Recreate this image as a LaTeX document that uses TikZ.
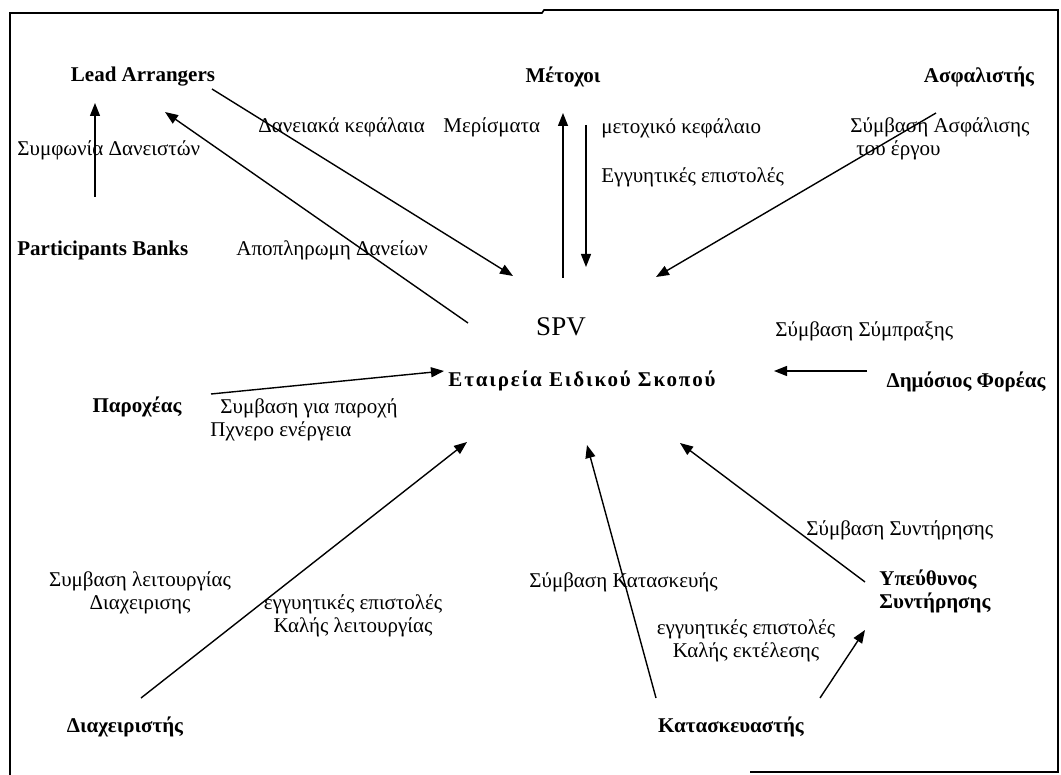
\documentclass[tikz,border=0pt]{standalone}
\usepackage{fontspec}
\setmainfont{Liberation Serif}
\usetikzlibrary{arrows.meta}

\begin{document}
\begin{tikzpicture}[
            x=0.5pt, y=-0.5pt,
            >={Triangle[length=6.5pt, width=5pt]},
            party/.style={inner sep=0pt, font=\fontsize{10.5}{11.5}\selectfont\bfseries},
            lbl/.style={inner sep=0pt, font=\fontsize{10.5}{11.5}\selectfont},
            flow/.style={->, line width=0.7pt},
        ]
            \useasboundingbox (0, 0) rectangle (1061, 775);
            \draw[line width=0.8pt] (10, 775) -- (10, 13) -- (542, 13) -- (544, 10) -- (1058, 10) -- (1058, 772) -- (750, 772);
            % parties
            \node[party] (lead) at (143, 77) {Lead Arrangers};
            \node[party] (metoxoi) at (563, 77) {Μέτοχοι};
            \node[party] (asfal) at (979, 77) {Ασφαλιστής};
            \node[party, anchor=west] (banks) at (17, 250) {Participants Banks};
            \node[lbl, font=\fontsize{13.5}{15}\selectfont] (spv) at (561, 327) {SPV};
            \node[party] (etaireia) at (582, 381) {\addfontfeature{LetterSpace=9}Εταιρεία Ειδικού Σκοπού};
            \node[party] (paroxeas) at (137, 407) {Παροχέας};
            \node[party] (dimosios) at (966, 382) {Δημόσιος Φορέας};
            \node[party, anchor=west, align=left] (syntirisi) at (879, 591) {Υπεύθυνος\\Συντήρησης};
            \node[party] (diax) at (125, 727) {Διαχειριστής};
            \node[party] (katask) at (731, 727) {Κατασκευαστής};
            % labels
            \node[lbl, anchor=west] (symfonia) at (17, 150) {Συμφωνία Δανειστών};
            \node[lbl, anchor=west] (daneia) at (258, 127) {Δανειακά κεφάλαια};
            \node[lbl, anchor=west] (merismata) at (443, 127) {Μερίσματα};
            \node[lbl, anchor=west] (kefalaio) at (601, 128) {μετοχικό κεφάλαιο};
            \node[lbl, anchor=west] (eggyiseis) at (601, 177) {Εγγυητικές επιστολές};
            \node[lbl, anchor=west, align=left] (asfalisi) at (850, 139) {Σύμβαση Ασφάλισης\\\hspace{3pt}του έργου};
            \node[lbl, anchor=west] (apopl) at (236, 250) {Αποπληρωμη Δανείων};
            \node[lbl, anchor=west] (sympraxi) at (775, 331) {Σύμβαση Σύμπραξης};
            \node[lbl, anchor=west, align=left] (paroxi) at (210, 420) {\hspace{5pt}Συμβαση για παροχή\\Πχνερο ενέργεια};
            \node[lbl, align=center] (leitourgia) at (140, 593) {Συμβαση λειτουργίας\\Διαχειρισης};
            \node[lbl, align=center] (kalis1) at (353, 616) {εγγυητικές επιστολές\\Καλής λειτουργίας};
            \node[lbl, anchor=west] (kataskevi) at (529, 582) {Σύμβαση Κατασκευής};
            \node[lbl, anchor=west] (syntir) at (806, 530) {Σύμβαση Συντήρησης};
            \node[lbl, align=center] (kalis2) at (746, 641) {εγγυητικές επιστολές\\Καλής εκτέλεσης};
            % connector ends
            \coordinate (banksu) at (95, 197);
            \coordinate (leadd) at (95, 103);
            \coordinate (leadr) at (212, 89);
            \coordinate (leadin) at (165, 112);
            \coordinate (spvnw) at (513, 276);
            \coordinate (spvout) at (468, 323);
            \coordinate (spvu) at (563, 278);
            \coordinate (metu) at (563, 113);
            \coordinate (metd) at (586, 125);
            \coordinate (spvd) at (586, 267);
            \coordinate (asfall) at (936, 113);
            \coordinate (spvne) at (656, 277);
            \coordinate (paror) at (211, 394);
            \coordinate (spvw) at (444, 371);
            \coordinate (dimol) at (867, 371);
            \coordinate (spve) at (774, 371);
            \coordinate (diaxu) at (141, 698);
            \coordinate (spvsw) at (467, 442);
            \coordinate (kataskl) at (656, 698);
            \coordinate (spvs) at (587, 445);
            \coordinate (syntl) at (865, 582);
            \coordinate (spvse) at (680, 443);
            \coordinate (kataskr) at (820, 698);
            \coordinate (syntd) at (865, 630);
            % flows
            \path[flow] (banksu) edge (leadd);
            \path[flow] (leadr) edge (spvnw);
            \path[flow] (spvout) edge (leadin);
            \path[flow] (spvu) edge (metu);
            \path[flow] (metd) edge (spvd);
            \path[flow] (asfall) edge (spvne);
            \path[flow] (paror) edge (spvw);
            \path[flow] (dimol) edge (spve);
            \path[flow] (diaxu) edge (spvsw);
            \path[flow] (kataskl) edge (spvs);
            \path[flow] (syntl) edge (spvse);
            \path[flow] (kataskr) edge (syntd);
        \end{tikzpicture}
\end{document}
